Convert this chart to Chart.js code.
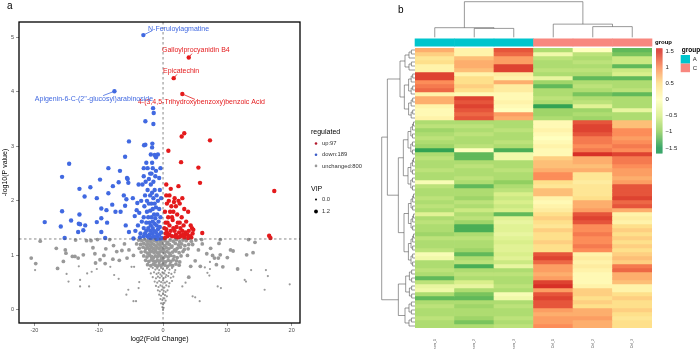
<!DOCTYPE html>
<html>
<head>
<meta charset="utf-8">
<script src="https://cdn.jsdelivr.net/npm/chart.js@4.4.1/dist/chart.umd.min.js"></script>
<style>
  html, body { margin: 0; padding: 0; background: #fff; }
  #wrap { position: relative; width: 700px; height: 349px; overflow: hidden; }
  #volcano { position: absolute; left: 0; top: 0; }
  #heat { position: absolute; left: 370px; top: 0; }
</style>
</head>
<body>
<div id="wrap">
  <canvas id="volcano" width="370" height="349"></canvas>
  <canvas id="heat" width="330" height="349"></canvas>
</div>
<script>
// ---------- volcano data: [log2FC, -log10 P] ----------
const upPoints = [
  [4.0,4.63],[1.66,4.25],[3.0,3.96],[3.3,3.24],[2.9,3.18],[7.3,3.11],[0.83,2.92],[2.8,2.71],[5.5,2.61],
  [5.75,2.33],[17.3,2.18],[0.5,2.3],[2.4,2.27],[1.2,2.22],[1.0,2.1],[1.8,2.05],[0.9,2.0],[1.7,1.98],
  [0.6,1.95],[2.6,1.95],[1.3,1.9],[3.3,1.85],[3.9,1.8],[1.1,1.8],[2.2,1.75],[0.8,1.7],[2.9,1.7],
  [1.5,1.65],[3.6,1.62],[0.4,1.6],[2.6,1.6],[1.0,1.55],[3.2,1.55],[4.3,1.55],[2.1,1.52],[1.6,1.5],
  [4.5,1.5],[0.5,1.48],[1.2,1.45],[1.8,1.45],[3.0,1.45],[0.6,1.42],[2.5,1.42],[3.5,1.42],[4.6,1.4],
  [6.1,1.41],[2.0,1.38],[3.8,1.38],[2.8,1.36],[4.2,1.35],[1.4,1.35],[0.7,1.35],[3.3,1.33],[3.9,1.32],
  [2.3,1.33],[0.3,1.32],[16.5,1.36],[16.7,1.32],[0.2,1.5],[0.3,1.8],[0.5,2.1],[1.4,1.7],[2.0,1.9],
  [2.3,1.6],[2.7,1.5],[3.4,1.38],[4.0,1.45],[4.4,1.33],[1.9,1.34],[2.6,1.34],[3.1,1.38],[1.0,1.38],
  [0.4,1.4],[1.6,1.8],[2.4,2.0],[3.0,2.05],[0.7,1.6],[4.7,1.47]
];
const downPoints = [
  [-3.06,5.04],[-7.56,4.01],[-1.55,3.70],[-1.45,3.61],[-2.75,3.46],[-1.5,3.41],[-5.3,3.09],[-2.95,3.02],
  [-2.75,3.03],[-1.66,3.05],[-1.7,2.98],[-5.9,2.81],[-1.9,2.85],[-1.3,2.84],[-0.8,2.85],[-1.1,2.8],
  [-1.7,2.7],[-14.6,2.68],[-6.7,2.55],[-3.0,2.6],[-2.4,2.6],[-15.7,2.44],[-5.6,2.42],[-1.8,2.5],
  [-1.2,2.45],[-0.6,2.42],[-13.0,2.22],[-11.3,2.25],[-9.8,2.39],[-8.5,2.6],[-6.9,2.34],[-5.5,2.4],
  [-5.4,2.33],[-8.5,2.14],[-10.3,2.05],[-12.2,2.08],[-7.8,2.27],[-6.1,2.1],[-5.7,2.03],[-5.9,1.91],
  [-7.9,1.93],[-9.6,1.86],[-8.8,1.83],[-7.4,1.8],[-6.6,1.8],[-15.7,1.81],[-18.4,1.61],[-14.3,1.64],
  [-13.0,1.75],[-13.1,1.58],[-12.9,1.57],[-15.9,1.53],[-10.3,1.61],[-9.6,1.68],[-8.7,1.6],[-12.1,1.55],
  [-13.2,1.43],[-12.4,1.46],[-9.6,1.43],[-9.0,1.32],[-15.3,1.32],[-5.8,1.55],[-5.3,1.43],
  [-4.4,1.72],[-4.1,1.83],[-4.0,1.96],[-3.7,1.78],[-4.6,1.31],[-4.3,1.45],[-3.9,1.55],[-3.5,1.4],
  [-3.4,2.0],[-3.2,2.3],[-3.3,1.62],[-3.0,1.35],[-3.0,1.5],[-3.0,1.7],[-2.9,1.9],[-2.8,2.1],[-2.7,2.35],
  [-2.6,1.45],[-2.6,1.6],[-2.5,1.8],[-2.5,2.0],[-2.4,1.35],[-2.4,2.2],[-2.3,1.5],[-2.3,1.7],[-2.2,1.95],
  [-2.2,2.4],[-2.1,1.38],[-2.1,1.6],[-2.0,1.45],[-2.0,1.82],[-2.0,2.1],[-1.9,1.32],[-1.9,1.55],[-1.9,2.3],
  [-1.8,1.7],[-1.8,1.95],[-1.7,1.4],[-1.7,2.15],[-1.6,1.5],[-1.6,1.62],[-1.6,1.85],[-1.5,1.35],[-1.5,2.05],
  [-1.5,2.35],[-1.4,1.45],[-1.4,1.75],[-1.3,1.58],[-1.3,1.95],[-1.3,2.2],[-1.2,1.33],[-1.2,1.68],[-1.1,1.42],
  [-1.1,1.88],[-1.0,1.55],[-1.0,2.1],[-0.9,1.36],[-0.9,1.75],[-0.8,1.48],[-0.8,2.0],[-0.7,1.62],[-0.6,1.38],
  [-0.6,1.85],[-0.5,1.52],[-0.4,1.7],[-0.3,1.42],[-0.3,2.05],[-0.2,1.32],[-2.8,1.4],[-2.2,1.33],[-1.0,1.3],
  [-0.5,1.31],[-3.6,1.33],[-2.0,2.5],[-1.6,2.6],[-0.5,2.2],[-3.8,2.3],[-4.7,2.05],[-3.0,2.45],[-1.1,2.55],
  [-2.6,2.7],[-0.4,2.6]
];
const grayBig = [
  [-20.5,0.95],[-19.8,0.85],[-19.1,1.26],[-16.6,1.13],[-16.4,0.76],[-15.5,0.89],[-15.1,1.04],[-15.2,1.1],
  [-14.1,0.98],[-13.7,0.98],[-13.2,0.95],[-13.6,1.28],[-12.4,1.01],[-11.9,1.27],[-11.2,1.27],[-10.9,1.14],
  [-10.2,1.29],[-10.6,1.03],[-10.5,0.86],[-8.3,1.29],[-7.7,1.18],[-7.2,1.07],[-8.9,1.12],[-9.2,1.0],
  [-9.8,0.92],[-9.0,0.85],[-7.8,0.93],[-6.4,1.09],[-6.8,0.91],[-6.0,1.21],[-5.6,0.95],[-5.3,1.1],[-4.6,1.0],
  [14.3,1.24],[13.3,1.29],[14.0,1.05],[13.0,1.01],[10.9,1.08],[10.5,1.1],[10.0,0.96],[8.9,1.01],[8.3,0.83],
  [8.6,0.95],[8.0,0.95],[8.9,1.29],[8.7,1.22],[7.4,1.13],[6.0,1.29],[6.1,1.21],[6.8,1.03],[11.6,0.75],
  [9.3,0.79],[7.7,1.0],[5.5,1.1],[5.0,0.9],[4.6,1.2],[5.8,0.8],[4.3,0.8],[3.8,1.0],[4.0,0.6],
  [-3.8,1.28],[-3.3,1.27],[-2.9,1.29],[-2.5,1.26],[-2.2,1.28],[-1.9,1.25],[-1.6,1.29],[-1.3,1.27],[-1.0,1.26],
  [-0.7,1.29],[-0.4,1.25],[-0.1,1.28],[0.3,1.27],[0.7,1.24],[1.1,1.28],[1.6,1.26],[2.1,1.29],[2.6,1.25],
  [3.1,1.28],[3.6,1.27],[4.4,1.26],[5.1,1.28],
  [-4.1,1.21],[-3.5,1.2],[-3.0,1.22],[-2.6,1.19],[-2.3,1.21],[-2.0,1.18],[-1.7,1.22],[-1.4,1.2],[-1.1,1.17],
  [-0.8,1.21],[-0.5,1.19],[-0.2,1.22],[0.2,1.18],[0.6,1.21],[1.0,1.2],[1.4,1.17],[1.9,1.22],[2.4,1.19],
  [2.9,1.21],[3.4,1.18],[4.0,1.2],
  [-3.7,1.13],[-3.1,1.15],[-2.7,1.12],[-2.4,1.14],[-2.1,1.11],[-1.8,1.15],[-1.5,1.13],[-1.2,1.1],[-0.9,1.14],
  [-0.6,1.12],[-0.3,1.15],[0.1,1.11],[0.5,1.14],[0.9,1.12],[1.3,1.15],[1.8,1.1],[2.2,1.13],[2.7,1.15],
  [3.3,1.11],[3.9,1.12],
  [-3.4,1.06],[-2.8,1.07],[-2.4,1.04],[-2.0,1.06],[-1.7,1.08],[-1.4,1.05],[-1.1,1.07],[-0.8,1.04],[-0.5,1.06],
  [-0.2,1.08],[0.2,1.05],[0.6,1.07],[1.0,1.04],[1.5,1.06],[2.0,1.08],[2.5,1.05],[3.1,1.07],
  [-3.0,0.99],[-2.5,0.97],[-2.1,1.0],[-1.8,0.98],[-1.5,0.96],[-1.2,0.99],[-0.9,0.97],[-0.6,1.0],[-0.3,0.98],
  [0.1,0.96],[0.4,0.99],[0.8,0.97],[1.2,1.0],[1.7,0.98],[2.2,0.96],[2.8,0.99],
  [-2.7,0.91],[-2.2,0.89],[-1.8,0.92],[-1.5,0.9],[-1.2,0.88],[-0.9,0.91],[-0.6,0.89],[-0.3,0.92],[0.0,0.9],
  [0.4,0.88],[0.8,0.91],[1.2,0.89],[1.6,0.92],[2.1,0.9],[2.6,0.88],
  [-2.4,0.83],[-1.9,0.81],[-1.5,0.84],[-1.2,0.82],[-0.9,0.8],[-0.6,0.83],[-0.3,0.81],[0.0,0.84],[0.3,0.82],
  [0.7,0.8],[1.1,0.83],[1.5,0.81],[2.0,0.84],[2.5,0.82]
];
const graySmall = [
  [-19.9,0.73],[-15.0,0.66],[-13.1,0.8],[-11.1,0.7],[-11.8,0.67],[-12.9,0.55],[-11.5,0.43],[-12.9,0.43],
  [-14.7,0.52],[-8.2,0.79],[-7.6,0.64],[-6.9,0.57],[-10.3,0.75],[-5.7,0.28],[-4.6,0.16],[-4.2,0.16],
  [-5.4,0.37],[-3.7,0.51],[-3.8,0.4],[-4.9,0.79],[-4.5,0.79],
  [19.7,0.47],[15.8,0.37],[16.0,0.73],[16.3,0.62],[12.7,0.55],[12.9,0.52],[13.7,0.73],[8.5,0.43],[9.0,0.4],
  [7.3,0.75],[7.2,0.63],[6.9,0.68],[5.7,0.16],[4.6,0.25],[5.0,0.23],[3.0,0.43],[3.5,0.5],[6.5,0.78],[7.3,0.88],
  [-2.2,0.75],[-1.6,0.77],[-1.2,0.74],[-0.9,0.76],[-0.6,0.73],[-0.3,0.77],[0.0,0.75],[0.3,0.72],[0.6,0.76],
  [1.0,0.74],[1.4,0.77],[1.9,0.73],
  [-1.9,0.67],[-1.4,0.69],[-1.0,0.66],[-0.7,0.68],[-0.4,0.65],[-0.1,0.69],[0.2,0.67],[0.5,0.64],[0.9,0.68],
  [1.3,0.66],[1.8,0.69],
  [-1.6,0.6],[-1.1,0.58],[-0.8,0.61],[-0.5,0.59],[-0.2,0.62],[0.1,0.58],[0.4,0.6],[0.8,0.62],[1.2,0.59],[1.6,0.61],
  [-1.3,0.52],[-0.9,0.5],[-0.6,0.53],[-0.3,0.51],[0.0,0.54],[0.3,0.5],[0.6,0.52],[1.0,0.49],[1.4,0.53],
  [-1.1,0.44],[-0.7,0.42],[-0.4,0.45],[-0.1,0.43],[0.2,0.41],[0.5,0.45],[0.9,0.43],
  [-0.8,0.36],[-0.5,0.34],[-0.2,0.37],[0.1,0.35],[0.4,0.33],[0.7,0.36],
  [-0.6,0.28],[-0.3,0.26],[0.0,0.29],[0.3,0.27],[0.6,0.25],
  [-0.4,0.2],[-0.1,0.18],[0.2,0.21],[0.4,0.17],
  [-0.3,0.12],[0.0,0.1],[0.2,0.13],[-0.1,0.05],[0.1,0.04],[0.0,0.0]
];
const legendItems = ['up:97', 'down:189', 'unchanged:800'];
const vipLevels = ['0.0', '1.2'];

// labelled metabolites: point, end of leader line, text anchor (data units)
const labelled = [
  { name: 'N-Feruloylagmatine', pt: [-3.06, 5.04], end: [-1.71, 5.12], at: [-2.33, 5.15], align: 'left', up: false },
  { name: 'Galloylprocyanidin B4', pt: [4.0, 4.63], end: [4.5, 4.70], at: [-0.16, 4.76], align: 'left', up: true },
  { name: 'Epicatechin', pt: [1.66, 4.25], end: [2.17, 4.32], at: [0.0, 4.375], align: 'left', up: true },
  { name: '4-(3,4,5-Trihydroxybenzoxy)benzoic Acid', pt: [3.0, 3.96], end: [4.97, 3.86], at: [-3.9, 3.81], align: 'left', up: true },
  { name: "Apigenin-6-C-(2''-glucosyl)arabinoside", pt: [-7.56, 4.01], end: [-9.32, 3.93], at: [-1.55, 3.87], align: 'right', up: false }
];

// ---------- heatmap data (row z-scores, top to bottom) ----------
const sampleNames = ['Achrom_1', 'Achrom_2', 'Achrom_3', 'Ctrl_1', 'Ctrl_2', 'Ctrl_3'];
const sampleGroups = ['A', 'A', 'A', 'C', 'C', 'C'];
const colA1 = [0.8,0.6,0.4,0.5,0.2,0.2,1.4,1.4,1.0,1.1,1.2,0.2,0.8,0.8,0.2,0.1,0.1,0.2,
  -0.8,-0.7,-0.9,-0.8,-0.7,-0.8,-0.9,-1.4,-0.8,-0.7,-0.8,-0.8,-0.7,-0.8,-0.8,-0.1,-0.7,-0.8,
  -0.8,-0.7,-0.8,-0.7,-0.8,-0.4,-0.8,-0.7,-0.8,-0.8,-0.9,-0.7,-0.8,-0.8,-0.7,-0.1,-0.2,-0.8,
  -0.8,-0.7,-0.8,-1.2,-0.7,-0.3,-0.2,-0.8,-1.2,-0.8,-0.7,-0.8,-0.8,-0.7,-0.8,-0.8];
const colA2 = [0.2,0.2,0.7,0.8,0.8,0.7,0.2,0.5,0.5,0.6,0.5,0.1,1.4,1.3,1.4,1.3,1.2,1.3,
  -0.8,-0.7,-0.8,-0.7,-0.8,-0.8,-0.7,0.0,-1.2,-1.2,-0.8,-0.7,-0.8,-0.8,-0.7,-0.8,-1.2,-0.8,
  -0.8,-0.9,-0.7,-0.8,-0.6,-0.8,-0.7,-0.9,-1.3,-1.3,-0.8,-0.7,-0.8,-0.8,-0.9,-1.2,-0.8,-0.7,
  -1.3,-0.8,-0.7,-0.8,-0.5,-0.3,-0.8,-1.1,-1.2,-0.8,-0.9,-0.8,-0.8,-0.9,-1.1,-0.8];
const colA3 = [1.3,1.2,0.9,0.9,1.4,1.4,0.3,0.2,0.8,0.3,0.3,0.1,0.1,0.2,0.1,0.0,0.9,0.8,
  -0.8,-0.8,-0.7,-0.8,-0.8,-0.7,-0.8,-1.3,-0.2,-0.2,-0.8,-0.8,-0.7,-0.8,-0.8,-1.0,-0.8,-0.7,
  -0.5,-0.6,-0.5,-0.6,-0.5,-1.2,-0.4,-0.3,-0.4,-0.4,-0.3,-0.4,-0.5,-0.4,-0.4,-0.5,-0.4,-0.6,
  -0.3,-0.8,-0.7,-0.8,-0.8,-0.7,-0.8,-0.1,-0.2,-0.8,-0.7,-0.8,-0.8,-0.7,-0.8,-0.7];
const colC1 = [-0.8,-0.2,-0.7,-0.8,-0.8,-0.7,-0.8,-0.3,-0.9,-1.2,-0.8,-0.8,-0.7,-0.8,-1.4,-0.9,-0.9,-0.8,
  0.1,0.1,0.2,0.1,0.0,0.1,0.2,0.1,0.1,0.6,0.7,0.7,0.8,1.0,1.0,0.5,0.4,0.7,
  0.7,0.2,0.1,0.2,0.3,0.5,0.6,0.5,0.4,0.6,0.5,0.5,0.6,0.5,0.5,1.3,1.4,1.2,
  0.9,0.9,0.8,0.9,1.4,1.5,0.9,1.3,1.4,1.3,1.3,0.9,0.8,0.9,0.9,1.0];
const colC2 = [0.0,-0.7,-0.8,-0.7,-0.8,-0.7,-0.8,-1.2,-0.8,-0.7,-0.8,-1.1,-0.8,-0.7,-0.4,-0.9,-0.8,-0.9,
  1.3,1.4,1.4,1.3,1.1,1.1,1.0,1.1,1.5,0.8,0.8,0.7,0.8,0.4,0.4,0.3,0.4,0.4,
  0.4,0.5,0.8,0.8,0.9,1.3,1.4,1.3,1.0,1.0,1.1,1.0,1.0,1.1,1.0,0.2,0.3,0.2,
  0.3,0.2,0.1,0.1,0.1,0.2,0.6,0.6,0.5,0.6,0.5,0.8,0.8,0.9,0.8,0.8];
const colC3 = [-1.2,-1.1,-0.6,-0.6,-1.2,-0.6,-0.5,-1.2,-0.8,-0.8,-0.7,-1.2,-0.8,-0.8,-0.8,-0.3,-0.8,-0.8,
  0.7,0.7,1.0,1.0,0.9,1.0,1.1,1.0,1.4,1.1,1.1,1.0,0.9,0.9,0.8,0.9,1.3,1.3,
  1.3,1.4,1.2,1.3,0.8,0.2,0.3,0.2,0.5,0.6,0.5,0.6,0.5,0.6,0.5,0.6,0.7,0.6,
  1.1,1.2,0.8,0.8,0.7,0.2,0.2,0.5,0.6,0.5,0.5,0.6,0.5,0.4,0.5,0.5];
const heatColumns = [colA1, colA2, colA3, colC1, colC2, colC3];
const scaleTicks = [1.5, 1, 0.5, 0, -0.5, -1, -1.5];

// column clustering (heights relative to root)
const colTree = { h: 1, kids: [
  { h: 0.27, kids: [{ leaf: 0 }, { h: 0.25, kids: [{ leaf: 1 }, { leaf: 2 }] }] },
  { h: 0.37, kids: [{ leaf: 3 }, { h: 0.30, kids: [{ leaf: 4 }, { leaf: 5 }] }] }
] };

// row clustering: main branches given, small branches split in halves
function block(a, b, h) {
  if (a === b) return { leaf: a };
  const m = Math.floor((a + b) / 2);
  return { h: h, kids: [block(a, m, h * 0.6), block(m + 1, b, h * 0.6)] };
}
const rowTree = { h: 1, kids: [
  { h: 0.83, kids: [
    { h: 0.45, kids: [block(0, 5, 0.3), block(6, 17, 0.32)] },
    { h: 0.5, kids: [block(18, 35, 0.35), block(36, 54, 0.33)] }
  ] },
  { h: 0.5, kids: [block(55, 62, 0.28), block(63, 69, 0.3)] }
] };

// ---------- styles ----------
const FONT = "'Liberation Sans', Arial, Helvetica, sans-serif";
Chart.defaults.font.family = FONT;
const RED = '#E41A1C', BLUE = '#4169E1', GREY = '#999999';
const GROUP_COL = { A: '#00C5CD', C: '#F8877F' };
const stops = [-1.5, -1, -0.5, 0, 0.5, 1, 1.5];
const stopCols = ['#1A9850', '#91CF60', '#D9EF8B', '#FFFFBF', '#FEE08B', '#FC8D59', '#D73027'];

function hex(c) { return [1, 3, 5].map(i => parseInt(c.substr(i, 2), 16)); }
function zColor(v) {
  v = Math.max(-1.5, Math.min(1.5, v));
  let i = 0;
  while (i < stops.length - 2 && v > stops[i + 1]) i++;
  const t = (v - stops[i]) / (stops[i + 1] - stops[i]);
  const a = hex(stopCols[i]), b = hex(stopCols[i + 1]);
  const m = a.map((x, k) => Math.round(x + (b[k] - x) * t));
  return 'rgb(' + m.join(',') + ')';
}
const toXY = arr => arr.map(p => ({ x: p[0], y: p[1] }));

// ---------- volcano plot ----------
const volcanoDecor = {
  id: 'volcanoDecor',
  afterDatasetsDraw(chart) {
    const { ctx, chartArea: a, scales: { x, y } } = chart;
    ctx.save();
    // cut-off lines
    ctx.strokeStyle = '#555';
    ctx.lineWidth = 0.7;
    ctx.setLineDash([2.5, 2.5]);
    ctx.beginPath();
    ctx.moveTo(a.left, y.getPixelForValue(1.301));
    ctx.lineTo(a.right, y.getPixelForValue(1.301));
    ctx.moveTo(x.getPixelForValue(0), a.top);
    ctx.lineTo(x.getPixelForValue(0), a.bottom);
    ctx.stroke();
    ctx.setLineDash([]);
    // labels
    ctx.font = '7px ' + FONT;
    ctx.textBaseline = 'middle';
    labelled.forEach(l => {
      const col = l.up ? RED : BLUE;
      ctx.strokeStyle = col;
      ctx.lineWidth = 0.8;
      ctx.beginPath();
      ctx.moveTo(x.getPixelForValue(l.pt[0]), y.getPixelForValue(l.pt[1]));
      ctx.lineTo(x.getPixelForValue(l.end[0]), y.getPixelForValue(l.end[1]));
      ctx.stroke();
      ctx.fillStyle = col;
      ctx.textAlign = l.align;
      ctx.fillText(l.name, x.getPixelForValue(l.at[0]), y.getPixelForValue(l.at[1]));
    });
    ctx.restore();
  },
  afterDraw(chart) {
    const { ctx, chartArea: a } = chart;
    ctx.save();
    ctx.strokeStyle = '#000';
    ctx.lineWidth = 1.3;
    ctx.strokeRect(a.left, a.top, a.right - a.left, a.bottom - a.top);
    // panel letter
    ctx.fillStyle = '#000';
    ctx.font = '10px ' + FONT;
    ctx.textAlign = 'left';
    ctx.textBaseline = 'alphabetic';
    ctx.fillText('a', 7, 9);
    // legend
    const lx = a.right + 11;
    ctx.textBaseline = 'middle';
    ctx.font = '7px ' + FONT;
    ctx.fillText('regulated', lx, 132);
    const dotCols = ['#B2182B', '#3A5BC7', GREY];
    ctx.font = '5.8px ' + FONT;
    legendItems.forEach((t, i) => {
      const yy = 143.5 + i * 11.2;
      ctx.fillStyle = dotCols[i];
      ctx.beginPath(); ctx.arc(lx + 5, yy, 1.3, 0, Math.PI * 2); ctx.fill();
      ctx.fillStyle = '#333';
      ctx.fillText(t, lx + 11, yy);
    });
    ctx.fillStyle = '#000';
    ctx.font = '7px ' + FONT;
    ctx.fillText('VIP', lx, 189);
    ctx.font = '5.8px ' + FONT;
    vipLevels.forEach((t, i) => {
      const yy = 199.5 + i * 12;
      ctx.fillStyle = '#000';
      ctx.beginPath(); ctx.arc(lx + 5, yy, i === 0 ? 1.0 : 1.9, 0, Math.PI * 2); ctx.fill();
      ctx.fillStyle = '#333';
      ctx.fillText(t, lx + 11, yy);
    });
    ctx.restore();
  }
};

new Chart(document.getElementById('volcano'), {
  type: 'scatter',
  data: {
    datasets: [
      { label: 'up', data: toXY(upPoints), backgroundColor: RED, pointRadius: 2.2, borderWidth: 0, order: 1 },
      { label: 'down', data: toXY(downPoints), backgroundColor: BLUE, pointRadius: 2.2, borderWidth: 0, order: 2 },
      { label: 'unchanged', data: toXY(grayBig), backgroundColor: GREY, pointRadius: 1.9, borderWidth: 0, order: 3 },
      { label: 'unchanged (low VIP)', data: toXY(graySmall), backgroundColor: GREY, pointRadius: 1.1, borderWidth: 0, order: 4 }
    ]
  },
  options: {
    responsive: false,
    animation: false,
    devicePixelRatio: 1,
    events: [],
    layout: { padding: { left: 0, right: 70, top: 22, bottom: 0 } },
    plugins: { legend: { display: false }, tooltip: { enabled: false } },
    scales: {
      x: {
        type: 'linear', min: -22.4, max: 21.3,
        afterFit(s) { s.height = 26; },
        ticks: { stepSize: 10, includeBounds: false, font: { size: 5.5 }, color: '#4D4D4D', padding: 1, maxRotation: 0 },
        grid: { drawOnChartArea: false, drawTicks: true, tickLength: 3, color: '#4D4D4D', lineWidth: 0.6 },
        border: { display: false },
        title: { display: true, text: 'log2(Fold Change)', font: { size: 7 }, color: '#000', padding: { top: 0, bottom: 6 } }
      },
      y: {
        type: 'linear', min: -0.24, max: 5.28,
        afterFit(s) { s.width = 19; },
        ticks: { stepSize: 1, includeBounds: false, font: { size: 5.5 }, color: '#4D4D4D', padding: 2 },
        grid: { drawOnChartArea: false, drawTicks: true, tickLength: 3, color: '#4D4D4D', lineWidth: 0.6 },
        border: { display: false },
        title: { display: true, text: '-log10(P value)', font: { size: 7 }, color: '#000', padding: { top: 1, bottom: 0 } }
      }
    }
  },
  plugins: [volcanoDecor]
});

// ---------- heatmap ----------
const nRows = colA1.length;
const heatDatasets = [];
for (let r = 0; r < nRows; r++) {
  heatDatasets.push({
    label: 'row ' + (r + 1),
    data: sampleNames.map(() => 1),
    backgroundColor: heatColumns.map(col => zColor(col[r])),
    borderWidth: 0
  });
}

function drawTree(ctx, node, leafPos, hPos, vertical) {
  // returns [position along leaves, height pixel]
  if (node.leaf !== undefined) return [leafPos(node.leaf), hPos(0)];
  const a = drawTree(ctx, node.kids[0], leafPos, hPos, vertical);
  const b = drawTree(ctx, node.kids[1], leafPos, hPos, vertical);
  const hp = hPos(node.h);
  ctx.beginPath();
  if (vertical) { // column dendrogram, root on top
    ctx.moveTo(a[0], a[1]); ctx.lineTo(a[0], hp); ctx.lineTo(b[0], hp); ctx.lineTo(b[0], b[1]);
  } else { // row dendrogram, root on the left
    ctx.moveTo(a[1], a[0]); ctx.lineTo(hp, a[0]); ctx.lineTo(hp, b[0]); ctx.lineTo(b[1], b[0]);
  }
  ctx.stroke();
  return [(a[0] + b[0]) / 2, hp];
}

const heatDecor = {
  id: 'heatDecor',
  afterDraw(chart) {
    const { ctx, chartArea: a, scales: { x, y } } = chart;
    ctx.save();
    ctx.strokeStyle = '#555';
    ctx.lineWidth = 0.6;
    // dendrograms
    drawTree(ctx, colTree, i => x.getPixelForValue(i), h => 37.3 - h * 35.6, true);
    drawTree(ctx, rowTree, r => y.getPixelForValue(r + 0.5), h => a.left - h * 33.3, false);
    // group annotation bar
    const bw = (a.right - a.left) / sampleNames.length;
    sampleGroups.forEach((g, i) => {
      ctx.fillStyle = GROUP_COL[g];
      ctx.fillRect(a.left + i * bw - 0.3, 38.5, bw + 0.6, 8);
    });
    ctx.fillStyle = '#000';
    ctx.font = 'bold 6px ' + FONT;
    ctx.textAlign = 'left';
    ctx.textBaseline = 'middle';
    ctx.fillText('group', a.right + 3, 42.5);
    // colour key
    const kx = a.right + 4, top = 48.3, bot = 152.7;
    const vAt = yy => 1.6 - (yy - top) / (bot - top) * 3.25;
    for (let yy = top; yy < bot; yy += 1) {
      ctx.fillStyle = zColor(vAt(yy + 0.5));
      ctx.fillRect(kx, yy, 6.5, 1.2);
    }
    ctx.fillStyle = '#222';
    ctx.font = '6px ' + FONT;
    scaleTicks.forEach(v => {
      const yy = top + (1.6 - v) / 3.25 * (bot - top);
      ctx.fillText(v === 0 ? '0' : String(v).replace('-', '\u2212'), kx + 9.5, yy);
    });
    // group legend
    const gx = a.right + 28.7;
    ctx.fillStyle = '#000';
    ctx.font = 'bold 6.5px ' + FONT;
    ctx.fillText('group', gx + 1, 50.7);
    ['A', 'C'].forEach((g, i) => {
      ctx.fillStyle = GROUP_COL[g];
      ctx.fillRect(gx, 55 + i * 8.6, 9.3, 8.6);
      ctx.fillStyle = '#222';
      ctx.font = '6px ' + FONT;
      ctx.fillText(g, gx + 12, 59.3 + i * 8.6);
    });
    // panel letter
    ctx.fillStyle = '#000';
    ctx.font = '10px ' + FONT;
    ctx.textBaseline = 'alphabetic';
    ctx.fillText('b', 28, 13);
    ctx.restore();
  }
};

new Chart(document.getElementById('heat'), {
  type: 'bar',
  data: { labels: sampleNames, datasets: heatDatasets },
  options: {
    responsive: false,
    animation: false,
    devicePixelRatio: 1,
    events: [],
    barPercentage: 1,
    categoryPercentage: 1,
    layout: { padding: { left: 45, right: 48, top: 48, bottom: 0 } },
    plugins: { legend: { display: false }, tooltip: { enabled: false } },
    scales: {
      x: {
        stacked: true,
        afterFit(s) { s.height = 21; },
        ticks: { minRotation: 90, maxRotation: 90, font: { size: 3.5 }, color: '#555', padding: 3 },
        grid: { display: false },
        border: { display: false }
      },
      y: { stacked: true, display: false, min: 0, max: nRows, reverse: true }
    }
  },
  plugins: [heatDecor]
});
</script>
</body>
</html>
